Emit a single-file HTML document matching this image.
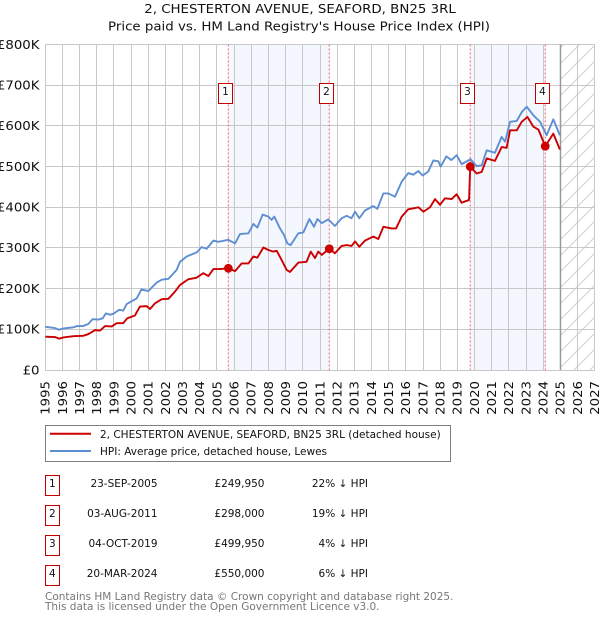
<!DOCTYPE html>
<html>
<head>
<meta charset="utf-8">
<title>Price paid vs. HPI</title>
<style>
html,body{margin:0;padding:0;background:#fff;width:600px;height:620px;overflow:hidden}
svg{display:block}
text{font-family:"DejaVu Sans","Liberation Sans",sans-serif;fill:#111}
</style>
</head>
<body>
<svg id="chart" xmlns="http://www.w3.org/2000/svg" width="600" height="620" viewBox="0 0 600 620">
<defs>
<pattern id="hatch" patternUnits="userSpaceOnUse" width="16" height="16">
<path d="M-2 18L18 -2M-2 2L2 -2M14 18L18 14" stroke="#d0d0d0" stroke-width="1" fill="none"/>
</pattern>
</defs>
<g id="bands"></g>
<g id="grid"></g>
<g id="vlines"></g>
<g id="series"></g>
<g id="markers"></g>
<g id="ticks"></g>

<text x="0" y="0" transform="translate(300,13) scale(1.115,1)" text-anchor="middle" font-size="12">2, CHESTERTON AVENUE, SEAFORD, BN25 3RL</text>
<text x="0" y="0" transform="translate(299,30.5) scale(1.115,1)" text-anchor="middle" font-size="12">Price paid vs. HM Land Registry's House Price Index (HPI)</text>

<g>
<rect x="45.5" y="425.5" width="405" height="36" fill="#fff" stroke="#808080" stroke-width="1"/>
<line x1="50" x2="91" y1="433.7" y2="433.7" stroke="#cc0000" stroke-width="2"/>
<line x1="50" x2="91" y1="451" y2="451" stroke="#5b8fd0" stroke-width="2"/>
<text x="100" y="438" font-size="10.5">2, CHESTERTON AVENUE, SEAFORD, BN25 3RL (detached house)</text>
<text x="100" y="455" font-size="10.5">HPI: Average price, detached house, Lewes</text>
</g>

<g font-size="10.5">
<g>
<rect x="45.5" y="475.5" width="14" height="20" fill="#fff" stroke="#c00000"/>
<text x="52.3" y="487" text-anchor="middle">1</text>
<text x="157.5" y="487" text-anchor="end">23-SEP-2005</text>
<text x="264.5" y="487" text-anchor="end">£249,950</text>
<text x="368" y="487" text-anchor="end">22% ↓ HPI</text>
</g>
<g>
<rect x="45.5" y="505.5" width="14" height="20" fill="#fff" stroke="#c00000"/>
<text x="52.3" y="517" text-anchor="middle">2</text>
<text x="157.5" y="517" text-anchor="end">03-AUG-2011</text>
<text x="264.5" y="517" text-anchor="end">£298,000</text>
<text x="368" y="517" text-anchor="end">19% ↓ HPI</text>
</g>
<g>
<rect x="45.5" y="535.5" width="14" height="20" fill="#fff" stroke="#c00000"/>
<text x="52.3" y="547" text-anchor="middle">3</text>
<text x="157.5" y="547" text-anchor="end">04-OCT-2019</text>
<text x="264.5" y="547" text-anchor="end">£499,950</text>
<text x="368" y="547" text-anchor="end">4% ↓ HPI</text>
</g>
<g>
<rect x="45.5" y="565.5" width="14" height="20" fill="#fff" stroke="#c00000"/>
<text x="52.3" y="577" text-anchor="middle">4</text>
<text x="157.5" y="577" text-anchor="end">20-MAR-2024</text>
<text x="264.5" y="577" text-anchor="end">£550,000</text>
<text x="368" y="577" text-anchor="end">6% ↓ HPI</text>
</g>
</g>

<g font-size="10.5">
<text x="45" y="600" style="fill:#777">Contains HM Land Registry data © Crown copyright and database right 2025.</text>
<text x="45" y="610" style="fill:#777">This data is licensed under the Open Government Licence v3.0.</text>
</g>
</svg>
<script>
var yearTicks = [1995,1996,1997,1998,1999,2000,2001,2002,2003,2004,2005,2006,2007,2008,2009,2010,2011,2012,2013,2014,2015,2016,2017,2018,2019,2020,2021,2022,2023,2024,2025,2026,2027];
var priceTicks = [0,100,200,300,400,500,600,700,800];
var priceTickLabels = ['£0','£100K','£200K','£300K','£400K','£500K','£600K','£700K','£800K'];

var hpiDates = [1995,1995.56,1995.8,1996.05,1996.63,1996.86,1997.2,1997.5,1997.76,1998.1,1998.34,1998.53,1998.77,1998.96,1999.3,1999.54,1999.74,2000.32,2000.6,2001,2001.49,2001.78,2002.17,2002.65,2002.85,2003.23,2003.82,2004.1,2004.4,2004.79,2005.08,2005.66,2006.05,2006.34,2006.83,2007.12,2007.35,2007.66,2007.99,2008.18,2008.34,2008.67,2008.9,2009.1,2009.29,2009.74,2010.03,2010.38,2010.65,2010.85,2011.1,2011.48,2011.87,2012.26,2012.55,2012.84,2013.04,2013.29,2013.62,2014.1,2014.34,2014.69,2014.98,2015.37,2015.76,2016.14,2016.43,2016.73,2016.98,2017.31,2017.6,2017.89,2018.03,2018.36,2018.65,2018.96,2019.25,2019.77,2020.12,2020.42,2020.71,2021.19,2021.58,2021.78,2022.07,2022.46,2022.75,2023.04,2023.43,2023.82,2024.2,2024.59,2024.97];
var hpiValues = [106,103,99,102,105,108,108,113,125,124,127,139,136,138,148,146,162,176,198,194,215,222,224,246,266,279,289,302,298,318,315,320,311,334,336,359,350,382,377,369,377,348,332,311,307,336,338,371,352,371,361,370,354,373,379,373,389,373,392,403,396,434,434,426,463,484,480,489,478,488,515,513,500,525,516,528,506,518,501,503,540,534,573,561,610,612,634,647,626,610,577,616,577];

var priceDates = [1995,1995.56,1995.8,1996.05,1996.63,1997.2,1997.5,1997.89,1998.19,1998.48,1998.87,1999.16,1999.54,1999.77,2000.22,2000.51,2000.9,2001.1,2001.39,2001.78,2002.17,2002.56,2002.85,2003.33,2003.82,2004.2,2004.5,2004.79,2005.18,2005.66,2006.05,2006.44,2006.83,2007.12,2007.35,2007.7,2007.99,2008.28,2008.48,2008.77,2009.06,2009.25,2009.74,2010.22,2010.46,2010.71,2010.9,2011.1,2011.54,2011.87,2012.26,2012.55,2012.84,2013.04,2013.29,2013.62,2014.1,2014.4,2014.69,2015.17,2015.43,2015.76,2016.14,2016.53,2016.73,2017.02,2017.41,2017.7,2017.99,2018.28,2018.67,2018.96,2019.25,2019.68,2019.75,2020.12,2020.42,2020.71,2021.19,2021.58,2021.87,2022.07,2022.46,2022.75,2023.08,2023.43,2023.72,2024.12,2024.59,2024.97];
var priceValues = [82,81,77,80,83,84,88,98,97,108,107,115,115,127,134,156,157,150,164,174,175,193,209,223,227,238,231,248,248,250,243,262,262,279,276,301,295,291,293,270,246,241,264,266,291,275,291,283,298,287,305,307,305,316,303,318,328,322,352,348,348,377,395,398,400,389,400,420,406,422,420,432,411,418,500,483,487,520,514,548,546,589,589,610,622,598,591,550,581,542];

var saleNumbers = ['1','2','3','4'];
var saleDates = [2005.66,2011.54,2019.75,2024.12];
var salePrices = [249.95,298,499.95,550];
var shadedRanges = [[2005.66,2011.54],[2019.75,2024.12]];

var NS = 'http://www.w3.org/2000/svg';
var X0 = 45.3, X1 = 594.7, Y0 = 370, Y1 = 44.5;
function xScale(year) { return X0 + (year - 1995) * (X1 - X0) / 32; }
function yScale(value) { return Y0 - value * (Y0 - Y1) / 800; }
function make(parentId, tag, attrs, text) {
  var el = document.createElementNS(NS, tag);
  for (var k in attrs) { el.setAttribute(k, attrs[k]); }
  if (text !== undefined) { el.textContent = text; }
  document.getElementById(parentId).appendChild(el);
  return el;
}
function snap(v) { return Math.round(v - 0.5) + 0.5; }

shadedRanges.forEach(function (r) {
  var el = make('bands', 'rect', {x: xScale(r[0]), y: Y1, width: xScale(r[1]) - xScale(r[0]), height: Y0 - Y1, fill: '#f4f7fe'});
  
  
});
var hatchRect = make('bands', 'rect', {x: xScale(2025), y: Y1, width: xScale(2027) - xScale(2025), height: Y0 - Y1, fill: 'url(#hatch)'});



yearTicks.forEach(function (year) {
  var x = snap(xScale(year));
  var line = make('grid', 'line', {x1: x, x2: x, y1: Y1, y2: Y0, stroke: '#c8c8c8', 'stroke-width': 1});
  
  
  var label = make('ticks', 'text', {x: 0, y: 0, 'font-size': 12, 'text-anchor': 'end', transform: 'translate(' + (xScale(year) + 4.3) + ',381) rotate(-90) scale(1.11,1)'}, String(year));
  
  
});
priceTicks.forEach(function (value, i) {
  var y = snap(yScale(value));
  var line = make('grid', 'line', {x1: X0, x2: X1, y1: y, y2: y, stroke: '#c8c8c8', 'stroke-width': 1});
  
  
  var label = make('ticks', 'text', {x: 0, y: 0, 'font-size': 12, 'text-anchor': 'end', transform: 'translate(39.5,' + (yScale(value) + 4.3) + ') scale(1.11,1)'}, priceTickLabels[i]);
  
  
});
var nowLine = make('grid', 'line', {x1: snap(xScale(2025)), x2: snap(xScale(2025)), y1: Y1, y2: Y0, stroke: '#999', 'stroke-width': 1.5});



saleDates.forEach(function (d) {
  var line = make('vlines', 'line', {x1: xScale(d), x2: xScale(d), y1: Y1, y2: Y0, stroke: '#f06070', 'stroke-width': 1, 'stroke-dasharray': '2 2'});
  
  
});

function pathFrom(dates, values) {
  return dates.map(function (d, i) { return (i ? 'L' : 'M') + xScale(d).toFixed(2) + ' ' + yScale(values[i]).toFixed(2); }).join('');
}
var hpiPath = make('series', 'path', {d: pathFrom(hpiDates, hpiValues), fill: 'none', stroke: '#5f8fd2', 'stroke-width': 1.9, 'stroke-linejoin': 'round'});


var pricePath = make('series', 'path', {d: pathFrom(priceDates, priceValues), fill: 'none', stroke: '#cc0000', 'stroke-width': 1.9, 'stroke-linejoin': 'round'});



saleDates.forEach(function (d, i) {
  var dot = make('markers', 'circle', {cx: xScale(d), cy: yScale(salePrices[i]), r: 4.4, fill: '#cc0000'});
  
  
  var bx = Math.round(xScale(d) - 10.5) + 0.5;
  var box = make('markers', 'rect', {x: bx, y: 83.5, width: 14, height: 20, fill: '#fff', stroke: '#c00000', 'stroke-width': 1});
  
  
  var num = make('markers', 'text', {x: bx + 7, y: 95, 'font-size': 10.5, 'text-anchor': 'middle'}, saleNumbers[i]);
  
  
});
</script>
</body>
</html>
